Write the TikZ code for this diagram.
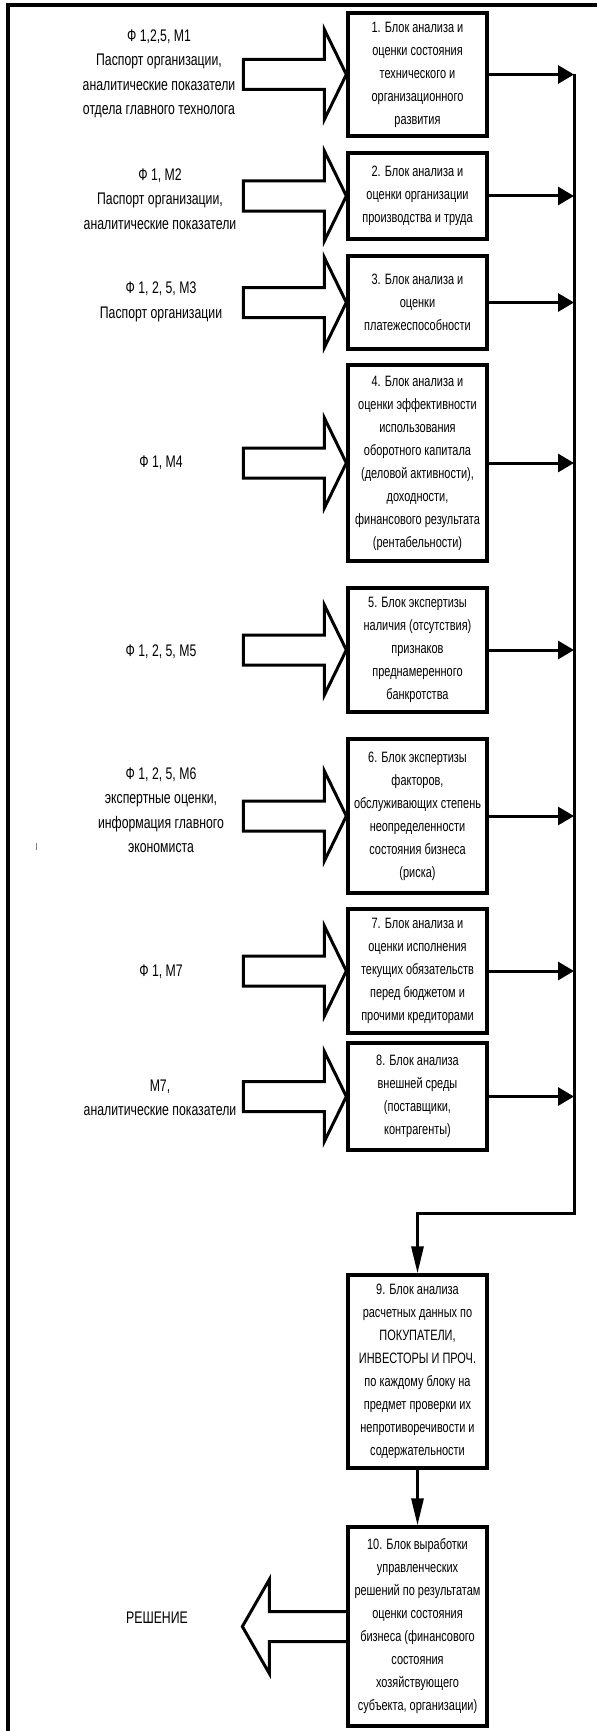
\documentclass[tikz,border=0pt]{standalone}
\usepackage{fontspec}
\setmainfont{Liberation Sans}[FakeStretch=0.73]
\usetikzlibrary{arrows.meta,calc}
\begin{document}
\begin{tikzpicture}[x=1pt,y=-1pt,
  blk/.style={draw,line width=3.3pt,align=center,inner sep=0pt,minimum width=139pt,font=\fontsize{15}{23}\selectfont},
  lbl/.style={align=center,inner sep=0pt,font=\fontsize{16.8}{24.5}\selectfont},
  bigarrow/.style={draw,line width=3pt,line join=miter},
  conn/.style={line width=3pt,-{Triangle[length=16pt,width=18pt]}},
  vconn/.style={line width=3pt,-{Triangle[length=27pt,width=12pt]}},
  frameline/.style={line width=3.5pt},
  tick/.style={gray,line width=0.8pt}
]
\useasboundingbox (0,0) rectangle (597,1731);

% frame
\draw[frameline] (597,5) -- (8,5) -- (8,1731);
\draw[tick] (36,843) -- (36,850);

% blocks
\node[blk,minimum height=123pt] (B1) at (417.5,74.5) {1. Блок анализа и\\оценки состояния\\технического и\\организационного\\развития};
\node[blk,minimum height=86pt] (B2) at (417.5,196) {2. Блок анализа и\\оценки организации\\производства и труда};
\node[blk,minimum height=93pt] (B3) at (417.5,302.5) {3. Блок анализа и\\оценки\\платежеспособности};
\node[blk,minimum height=196pt] (B4) at (417.5,463) {4. Блок анализа и\\оценки эффективности\\использования\\оборотного капитала\\(деловой активности),\\доходности,\\финансового результата\\(рентабельности)};
\node[blk,minimum height=124pt] (B5) at (417.5,650) {5. Блок экспертизы\\наличия (отсутствия)\\признаков\\преднамеренного\\банкротства};
\node[blk,minimum height=154pt] (B6) at (417.5,816) {6. Блок экспертизы\\факторов,\\обслуживающих степень\\неопределенности\\состояния бизнеса\\(риска)};
\node[blk,minimum height=124pt] (B7) at (417.5,971) {7. Блок анализа и\\оценки исполнения\\текущих обязательств\\перед бюджетом и\\прочими кредиторами};
\node[blk,minimum height=107pt] (B8) at (417.5,1096.5) {8. Блок анализа\\внешней среды\\(поставщики,\\контрагенты)};
\node[blk,minimum height=193pt] (B9) at (417.5,1371.5) {9. Блок анализа\\расчетных данных по\\ПОКУПАТЕЛИ,\\ИНВЕСТОРЫ И ПРОЧ.\\по каждому блоку на\\предмет проверки их\\непротиворечивости и\\содержательности};
\node[blk,minimum height=199pt] (B10) at (417.5,1626.5) {10. Блок выработки\\управленческих\\решений по результатам\\оценки состояния\\бизнеса (финансового\\состояния\\хозяйствующего\\субъекта, организации)};

% labels
\node[lbl] (L1) at (159,74) {Ф 1,2,5, М1\\Паспорт организации,\\аналитические показатели\\отдела главного технолога};
\node[lbl] (L2) at (160,199) {Ф 1, М2\\Паспорт организации,\\аналитические показатели};
\node[lbl] (L3) at (161,302) {Ф 1, 2, 5, М3\\Паспорт организации};
\node[lbl] (L4) at (161,463) {Ф 1, М4};
\node[lbl] (L5) at (161,652) {Ф 1, 2, 5, М5};
\node[lbl] (L6) at (161,810) {Ф 1, 2, 5, М6\\экспертные оценки,\\информация главного\\экономиста};
\node[lbl] (L7) at (161,972) {Ф 1, М7};
\node[lbl] (L8) at (160,1098) {М7,\\аналитические показатели};
\node[lbl] (L9) at (157,1618) {РЕШЕНИЕ};

% big input arrows
\foreach \b in {B1,B2,B3,B4,B5,B6,B7,B8}{
  \draw[bigarrow] (\b.west) -- ++(-22,-45) -- ++(0,30) -- ++(-81,0) -- ++(0,30) -- ++(81,0) -- ++(0,30) -- cycle;
}
% output big arrow
\draw[bigarrow] ($(B10.west)+(0,-15)$) -- ++(-77,0) -- ++(0,-32) -- ++(-27,47) -- ++(27,47) -- ++(0,-32) -- ++(77,0);

% bus
\coordinate (bustop) at (574,74.5);
\coordinate (buscorner) at (574,1213);
\coordinate (busleft) at (B9.north |- buscorner);
\draw[vconn] (bustop) -- (buscorner) -- (busleft) -- (B9.north);
\foreach \b in {B1,B2,B3,B4,B5,B6,B7,B8}{
  \draw[conn] (\b.east) -- (\b.east -| buscorner);
}
\draw[vconn] (B9.south) -- (B10.north);
\end{tikzpicture}
\end{document}
